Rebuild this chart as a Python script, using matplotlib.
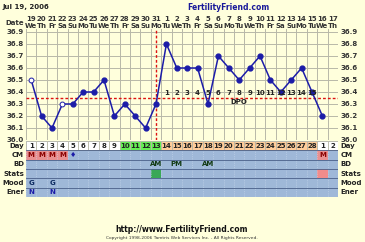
import numpy as np
import matplotlib
matplotlib.use('Agg')
import matplotlib.pyplot as plt
from matplotlib.patches import Rectangle

# ---- chart data ----
dates = ['19', '20', '21', '22', '23', '24', '25', '26', '27', '28', '29', '30', '31',
         '1', '2', '3', '4', '5', '6', '7', '8', '9', '10', '11', '12', '13', '14',
         '15', '16', '17']
weekdays = ['We', 'Th', 'Fr', 'Sa', 'Su', 'Mo', 'Tu', 'We', 'Th', 'Fr', 'Sa', 'Su', 'Mo',
            'Tu', 'We', 'Th', 'Fr', 'Sa', 'Su', 'Mo', 'Tu', 'We', 'Th', 'Fr', 'Sa', 'Su',
            'Mo', 'Tu', 'We', 'Th']
cycle_days = [str(d) for d in range(1, 29)] + ['1', '2']
temps = [36.5, 36.2, 36.1, 36.3, 36.3, 36.4, 36.4, 36.5, 36.2, 36.3, 36.2, 36.1, 36.3,
         36.8, 36.6, 36.6, 36.6, 36.3, 36.7, 36.6, 36.5, 36.6, 36.7, 36.5, 36.4, 36.5,
         36.6, 36.4, 36.2, np.nan]
open_days = [1, 4]            # open circle markers
cover_line = 36.35
ovulation_day = 13
dpo_days = list(range(14, 29))
fertile_days = [10, 11, 12, 13]
luteal_days = list(range(14, 29))
cm_marks = {1: 'M', 2: 'M', 3: 'M', 4: 'M', 5: '\u2666', 29: 'M'}
cm_cells = [1, 2, 3, 4, 29]
bd_marks = {13: 'AM', 15: 'PM', 18: 'AM'}
stats_cells = {13: '#3aa856', 29: '#f08c8c'}
mood_marks = {1: 'G', 3: 'G'}
ener_marks = {1: 'N', 3: 'N'}
row_names = ['Day', 'CM', 'BD', 'Stats', 'Mood', 'Ener']
temp_ticks = [36.0, 36.1, 36.2, 36.3, 36.4, 36.5, 36.6, 36.7, 36.8, 36.9]

BG = '#ffffdc'
GRID = '#b8b8a8'
BLUE = '#1c1ca8'
RED = '#dd1111'
FS = 5.0
FONT = dict(fontsize=FS, fontweight='bold', family='DejaVu Sans')

W, H = 365, 242
fig = plt.figure(figsize=(W / 100, H / 100), dpi=100, facecolor=BG)

def fig_box(x0, y0, x1, y1):
    # pixel box (top-down) -> figure fraction
    return [x0 / W, 1 - y1 / H, (x1 - x0) / W, (y1 - y0) / H]

n = len(dates)
xs = np.arange(1, n + 1)

# ---- temperature panel ----
ax = fig.add_axes(fig_box(26, 29, 338, 140))
ax.set_facecolor(BG)
ax.set_xlim(0.5, n + 0.5)
ax.set_ylim(36.0, 36.925)
for xv in np.arange(0.5, n + 1):
    ax.axvline(xv, color=GRID, lw=0.7, zorder=1)
for t in temp_ticks:
    ax.axhline(t, color=GRID, lw=0.7, zorder=1)
ax.set_xticks([])
ax.set_yticks([])
for s in ax.spines.values():
    s.set_visible(False)

ax.axhline(cover_line, color=RED, lw=1.0, ls=(0, (2, 1.5)), zorder=2)
ax.axvline(ovulation_day, color=RED, lw=1.0, ls=(0, (2, 1.5)), zorder=2)

ax.plot(xs, temps, color=BLUE, lw=1.1, zorder=3)
filled = [i for i in range(n) if (i + 1) not in open_days]
ax.plot(xs[filled], np.array(temps)[filled], 'o', ms=3.5, color=BLUE, zorder=4)
opened = [d - 1 for d in open_days]
ax.plot(xs[opened], np.array(temps)[opened], 'o', ms=3.5, mfc='white', mec=BLUE,
        mew=0.7, zorder=4)

for k, d in enumerate(dpo_days):
    ax.text(d, 36.395, str(k + 1), ha='center', va='center', color='#222222',
            zorder=5, **FONT)
ax.text(21, 36.315, 'DPO', ha='center', va='center', color='#222222', **FONT)

for t in temp_ticks:
    ax.text(0.3, t, f'{t:.1f}', ha='right', va='center', color='#333333',
            clip_on=False, **FONT)
    ax.text(n + 0.75, t, f'{t:.1f}', ha='left', va='center', color='#333333',
            clip_on=False, **FONT)

# date header
for i in range(n):
    ax.text(xs[i], 37.005, dates[i], ha='center', va='center', color='#333333',
            clip_on=False, **FONT)
    ax.text(xs[i], 36.948, weekdays[i], ha='center', va='center', color='#333333',
            clip_on=False, **FONT)
ax.text(0.3, 36.975, 'Date', ha='right', va='center', color='#333333',
        clip_on=False, **FONT)

# ---- bottom table ----
tb = fig.add_axes(fig_box(26, 141, 338, 197))
tb.set_xlim(0.5, n + 0.5)
tb.set_ylim(len(row_names), 0)
tb.set_xticks([])
tb.set_yticks([])
for s in tb.spines.values():
    s.set_visible(False)
tb.set_facecolor('#9fb8d8')

# day row
for i in range(n):
    d = i + 1
    if d in fertile_days:
        c = '#66ee55'
    elif d in luteal_days:
        c = '#ffcc99'
    else:
        c = 'white'
    tb.add_patch(Rectangle((d - 0.5, 0), 1, 1, facecolor=c, edgecolor=GRID, lw=0.6))
    tb.text(d, 0.5, cycle_days[i], ha='center', va='center', color='#222222', **FONT)

for d in cm_cells:
    tb.add_patch(Rectangle((d - 0.5, 1), 1, 1, facecolor='#e89090', edgecolor='none'))
for d, c in stats_cells.items():
    tb.add_patch(Rectangle((d - 0.5, 3), 1, 1, facecolor=c, edgecolor='none'))

for xv in np.arange(0.5, n + 1):
    tb.plot([xv, xv], [1, len(row_names)], color='#c8d8ec', lw=0.5, ls=':', zorder=2)
for r in range(1, len(row_names) + 1):
    tb.axhline(r, color='#4a5f88', lw=0.6, zorder=3)

for d, m in cm_marks.items():
    tb.text(d, 1.5, m, ha='center', va='center',
            color='#1c1ca8' if m != 'M' else '#8a0000', zorder=4, **FONT)
for d, m in bd_marks.items():
    tb.text(d, 2.5, m, ha='center', va='center', color='#123a12', zorder=4, **FONT)
for d, m in mood_marks.items():
    tb.text(d, 4.5, m, ha='center', va='center', color='#0c2a60', zorder=4, **FONT)
for d, m in ener_marks.items():
    tb.text(d, 5.5, m, ha='center', va='center', color='#1c1ca8', zorder=4, **FONT)

for r, name in enumerate(row_names):
    tb.text(0.3, r + 0.5, name, ha='right', va='center', color='#222222',
            clip_on=False, **FONT)
    tb.text(n + 0.75, r + 0.5, name, ha='left', va='center', color='#222222',
            clip_on=False, **FONT)

# ---- titles / footer ----
fig.text(2 / W, 1 - 7 / H, 'Jul 19, 2006', ha='left', va='center', color='#222222',
         **FONT)
fig.text(228 / W, 1 - 7 / H, 'FertilityFriend.com', ha='center', va='center',
         color='#1a1a9a', fontsize=5.5, fontweight='bold', family='DejaVu Sans')
fig.text(182 / W, 1 - 229 / H, 'http://www.FertilityFriend.com', ha='center',
         va='center', color='#111111', fontsize=5.5, fontweight='bold',
         family='DejaVu Sans')
fig.text(182 / W, 1 - 237.5 / H,
         'Copyright 1998-2006 Tamtris Web Services Inc. - All Rights Reserved.',
         ha='center', va='center', color='#333333', fontsize=3.2,
         family='DejaVu Sans')

fig.savefig('out.png', dpi=100, facecolor=BG)
